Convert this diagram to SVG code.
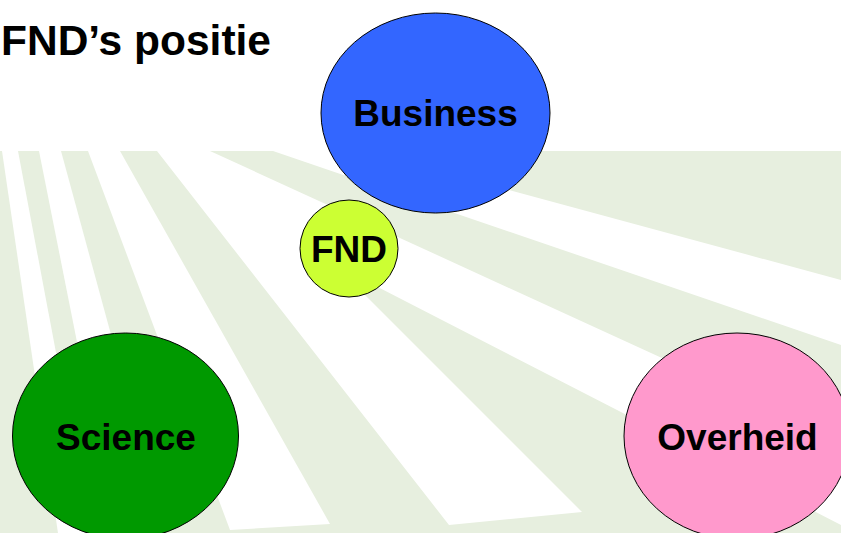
<svg xmlns="http://www.w3.org/2000/svg" width="841" height="533" viewBox="0 0 841 533">
  <style>
    .node { stroke: #000000; stroke-width: 1; }
    .label { font-family: "Liberation Sans", Arial, sans-serif; font-weight: bold; font-size: 37px; fill: #000000; text-anchor: middle; }
    .ray { fill: #FFFFFF; }
  </style>
  <defs>
    <clipPath id="field">
      <rect x="0" y="151" width="841" height="382"/>
    </clipPath>
  </defs>
  <rect x="0" y="0" width="841" height="533" fill="#FFFFFF"/>
  <g id="background" clip-path="url(#field)">
    <rect x="0" y="151" width="841" height="382" fill="#E7EFDF"/>
    <polygon class="ray" points="2,151 18,151 90,533 58,533"/>
    <polygon class="ray" points="39,151 61,151 165,533 115,533"/>
    <polygon class="ray" points="88,151 120,151 330,524 230,530"/>
    <polygon class="ray" points="157,151 210,151 841,440 841,525 335,265 582,512 449,525"/>
    <polygon class="ray" points="273,151 420,151 450,174 841,280 841,345"/>
  </g>
  <text x="1" y="55" font-family="Liberation Sans, Arial, sans-serif" font-weight="bold" font-size="42.5" fill="#000000">FND’s positie</text>
  <g id="connectors"/>
  <g id="node-business">
    <ellipse class="node" cx="435.5" cy="113" rx="114.5" ry="100" fill="#3366FF"/>
    <text class="label" x="435.5" y="126">Business</text>
  </g>
  <g id="node-fnd">
    <ellipse class="node" cx="349" cy="248.5" rx="49" ry="48.5" fill="#CCFF33"/>
    <text class="label" x="349" y="262">FND</text>
  </g>
  <g id="node-science">
    <ellipse class="node" cx="125.5" cy="436" rx="113" ry="103" fill="#009900"/>
    <text class="label" x="126" y="450">Science</text>
  </g>
  <g id="node-overheid">
    <ellipse class="node" cx="737" cy="436" rx="113" ry="103" fill="#FF99CC"/>
    <text class="label" x="737.5" y="450">Overheid</text>
  </g>
</svg>
